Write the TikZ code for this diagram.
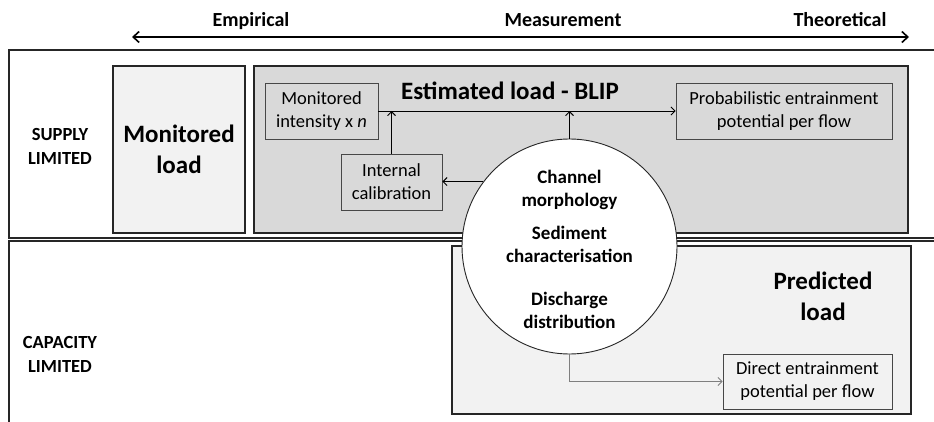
\documentclass[tikz,border=0pt]{standalone}
\usepackage{fontspec}
\setmainfont{Carlito}
\usetikzlibrary{arrows.meta}
\definecolor{loadLight}{HTML}{F2F2F2}
\definecolor{loadGrey}{HTML}{D9D9D9}
\definecolor{edgeDark}{HTML}{262626}
\definecolor{flowGrey}{HTML}{7F7F7F}
\newcommand{\fsz}[2]{\fontsize{#1}{#2}\selectfont}

\begin{document}
\begin{tikzpicture}[x=1pt,y=-1pt,
  frame/.style={line width=1.6pt,draw=edgeDark},
  axis/.style={{Straight Barb[length=6pt,width=11pt]}-{Straight Barb[length=6pt,width=11pt]},line width=1.6pt},
  bigbox/.style={draw=edgeDark,line width=1.6pt,inner sep=0pt},
  subbox/.style={draw=edgeDark!85,line width=0.9pt,fill=loadGrey,align=center,inner sep=0pt,font=\fsz{18.5}{23}},
  heading/.style={font=\bfseries\fsz{25}{31},align=center},
  rowlbl/.style={font=\bfseries\fsz{18.5}{24},align=center},
  axislbl/.style={font=\bfseries\fsz{20}{24},anchor=base},
  inputlbl/.style={font=\bfseries\fsz{19}{23},align=center},
  flow/.style={-{Straight Barb[length=4pt,width=8pt]},line width=0.9pt}]

  \useasboundingbox (0,0) rectangle (934,422);

  % scale of methods
  \coordinate (empEnd) at (132,37);
  \coordinate (theoEnd) at (909,37);
  \draw[axis] (empEnd) -- (theoEnd);
  \node[axislbl] (emp) at (251,27) {Empirical};
  \node[axislbl] (meas) at (563,27) {Measurement};
  \node[axislbl] (theo) at (840,27) {Theoretical};

  % rows
  \draw[frame] (934,50) -- (9,50) -- (9,238) -- (934,238);
  \draw[frame] (934,241) -- (9,241) -- (9,422);
  \node[rowlbl] (supply) at (60,146) {SUPPLY\\LIMITED};
  \node[rowlbl] (capacity) at (60,354) {CAPACITY\\LIMITED};

  \node[bigbox,fill=loadLight,minimum width=132pt,minimum height=167pt,heading] (monload) at (179,149.5) {Monitored\\load};
  \node[bigbox,fill=loadGrey,minimum width=654pt,minimum height=167pt] (estload) at (581,149.5) {};
  \node[heading,anchor=base] (esttitle) at (510,100) {Estimated load - BLIP};
  \node[bigbox,fill=loadLight,minimum width=459pt,minimum height=168pt] (predload) at (681.5,330) {};
  \node[heading] (predtitle) at (823,296) {Predicted\\load};

  \node[subbox,minimum width=113pt,minimum height=56pt] (monint) at (321.5,111) {Monitored\\intensity x \textit{n}};
  \node[subbox,minimum width=101pt,minimum height=56pt] (intcal) at (391.5,182) {Internal\\calibration};
  \node[subbox,minimum width=216pt,minimum height=56pt] (probent) at (784,111) {Probabilistic entrainment\\potential per flow};
  \node[subbox,fill=loadLight,minimum width=169pt,minimum height=55pt] (dirent) at (807.5,381.5) {Direct entrainment\\potential per flow};

  % catchment inputs
  \node[circle,draw=edgeDark,line width=0.9pt,fill=white,minimum size=215pt,inner sep=0pt] (inputs) at (569.5,246.5) {};
  \node[inputlbl] (chan) at (569.5,190) {Channel\\morphology};
  \node[inputlbl] (sedi) at (569.5,244) {Sediment\\characterisation};
  \node[inputlbl] (disch) at (569.5,310) {Discharge\\distribution};

  \draw[flow] (monint.east) -- (probent.west);
  \draw[flow] (intcal.north) -- (intcal.north |- monint.east);
  \draw[flow] (inputs.north) -- (inputs.north |- monint.east);
  \draw[flow] (inputs.143.13) -- (inputs.143.13 -| intcal.east);
  \draw[flow,draw=flowGrey] (inputs.south) |- (dirent.west);
\end{tikzpicture}
\end{document}
